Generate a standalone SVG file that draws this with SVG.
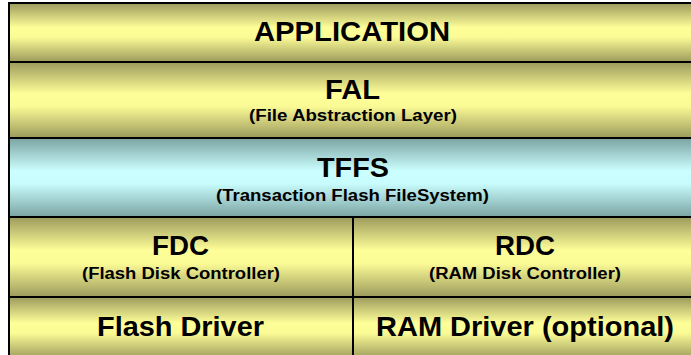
<svg xmlns="http://www.w3.org/2000/svg" width="691" height="355" viewBox="0 0 691 355">
  <defs>
    <linearGradient id="gold" x1="0" y1="0" x2="0" y2="1">
      <stop offset="0" stop-color="#9c9a5c"/>
      <stop offset="0.42" stop-color="#ffff99"/>
      <stop offset="0.58" stop-color="#fbfb96"/>
      <stop offset="1" stop-color="#9c9a5c"/>
    </linearGradient>
    <linearGradient id="teal" x1="0" y1="0" x2="0" y2="1">
      <stop offset="0" stop-color="#7ba3a3"/>
      <stop offset="0.42" stop-color="#ccffff"/>
      <stop offset="0.58" stop-color="#c8fbfb"/>
      <stop offset="1" stop-color="#7ba3a3"/>
    </linearGradient>
    <style>
      .cell { stroke: #000; stroke-width: 2; }
      .gold { fill: url(#gold); }
      .teal { fill: url(#teal); }
      .title { font-family: "Liberation Sans", Arial, sans-serif; font-weight: bold; font-size: 28px; fill: #000; text-anchor: middle; }
      .sub { font-family: "Liberation Sans", Arial, sans-serif; font-weight: bold; font-size: 16px; fill: #000; text-anchor: middle; }
    </style>
  </defs>

  <g id="application">
    <rect class="cell gold" x="9" y="3" width="700" height="59"/>
    <text class="title" x="352" y="41" textLength="196" lengthAdjust="spacingAndGlyphs">APPLICATION</text>
  </g>

  <g id="fal">
    <rect class="cell gold" x="9" y="62" width="700" height="76"/>
    <text class="title" x="352.5" y="99" textLength="55" lengthAdjust="spacingAndGlyphs">FAL</text>
    <text class="sub" x="353" y="121" textLength="208" lengthAdjust="spacingAndGlyphs">(File Abstraction Layer)</text>
  </g>

  <g id="tffs">
    <rect class="cell teal" x="9" y="138" width="700" height="79"/>
    <text class="title" x="353" y="177" textLength="72" lengthAdjust="spacingAndGlyphs">TFFS</text>
    <text class="sub" x="352.5" y="201" textLength="273" lengthAdjust="spacingAndGlyphs">(Transaction Flash FileSystem)</text>
  </g>

  <g id="fdc">
    <rect class="cell gold" x="9" y="217" width="344" height="80"/>
    <text class="title" x="180.5" y="255" textLength="57" lengthAdjust="spacingAndGlyphs">FDC</text>
    <text class="sub" x="181" y="279" textLength="198" lengthAdjust="spacingAndGlyphs">(Flash Disk Controller)</text>
  </g>

  <g id="rdc">
    <rect class="cell gold" x="353" y="217" width="356" height="80"/>
    <text class="title" x="525" y="255" textLength="60" lengthAdjust="spacingAndGlyphs">RDC</text>
    <text class="sub" x="525" y="279" textLength="192" lengthAdjust="spacingAndGlyphs">(RAM Disk Controller)</text>
  </g>

  <g id="flash-driver">
    <rect class="cell gold" x="9" y="297" width="344" height="62"/>
    <text class="title" x="180.5" y="336" textLength="167" lengthAdjust="spacingAndGlyphs">Flash Driver</text>
  </g>

  <g id="ram-driver">
    <rect class="cell gold" x="353" y="297" width="356" height="62"/>
    <text class="title" x="525" y="336" textLength="298" lengthAdjust="spacingAndGlyphs">RAM Driver (optional)</text>
  </g>
</svg>
